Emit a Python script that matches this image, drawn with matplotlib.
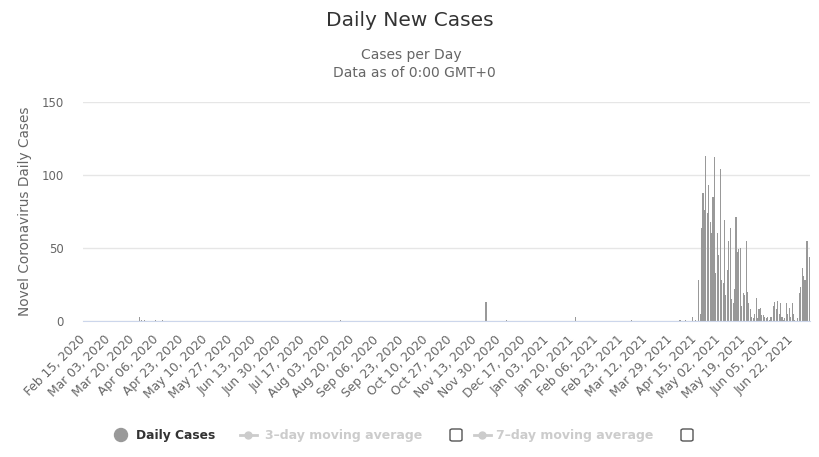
import numpy as np
import pandas as pd
import matplotlib
matplotlib.use('Agg')
import matplotlib.pyplot as plt
from matplotlib.lines import Line2D
from matplotlib.patches import FancyBboxPatch, Ellipse

# Data
START = '2020-02-15'
END = '2021-07-04'
TICK_EVERY = 17

# isolated small reports before the 2021 wave
early_dates = ['2020-03-25', '2020-03-26', '2020-03-28', '2020-04-05', '2020-04-10',
               '2020-08-12', '2020-11-21', '2020-12-05', '2021-01-22', '2021-03-02',
               '2021-04-05', '2021-04-09']
early_cases = [3, 1, 1, 1, 1, 1, 13, 1, 3, 1, 1, 1]

# daily values from the start of the 2021 wave
wave_start = '2021-04-14'
wave_cases = [3, 0, 1, 0, 28, 5, 64, 88, 76, 113,
              74, 93, 68, 60, 85, 112, 33, 60, 45, 104,
              28, 26, 69, 18, 35, 55, 64, 15, 12, 22,
              71, 47, 49, 50, 10, 19, 18, 55, 20, 12,
              8, 3, 2, 5, 16, 2, 8, 9, 4, 4,
              3, 2, 3, 1, 3, 3, 10, 13, 8, 14,
              5, 12, 3, 1, 2, 12, 5, 9, 3, 12,
              5, 1, 0, 2, 19, 23, 36, 31, 28, 55,
              55, 44]

dates = pd.date_range(START, END, freq='D')
cases = pd.Series(0.0, index=dates)
cases[pd.to_datetime(early_dates)] = early_cases
wave_idx = pd.date_range(wave_start, periods=len(wave_cases), freq='D')
cases[wave_idx] = wave_cases

W, H = 820, 457
fig = plt.figure(figsize=(W / 100, H / 100), dpi=100)
ax = fig.add_axes([83 / W, 1 - 321 / H, 727 / W, 219 / H])

x = np.arange(len(dates))
ax.bar(x, cases.values, width=0.75, color='#999999', linewidth=0)

ax.set_xlim(-0.5, len(dates) - 0.5)
ax.set_ylim(0, 150)
ax.set_yticks([0, 50, 100, 150])
ticks = x[::TICK_EVERY]
ax.set_xticks(ticks)
ax.set_xticklabels([d.strftime('%b %d, %Y') for d in dates[::TICK_EVERY]],
                   rotation=45, ha='right', va='center', rotation_mode='anchor')
ax.tick_params(axis='x', length=0, pad=12, labelsize=8.8, labelcolor='#666666')
ax.tick_params(axis='y', length=0, pad=14, labelsize=8.5, labelcolor='#666666')
ax.grid(axis='y', color='#e6e6e6', linewidth=1)
ax.set_axisbelow(True)
for s in ['top', 'right', 'left']:
    ax.spines[s].set_visible(False)
ax.spines['bottom'].set_color('#ccd6eb')
ax.set_ylabel('Novel Coronavirus Daily Cases', fontsize=9.8, color='#666666', labelpad=7)

# titles
fig.text(410 / W, 1 - 20 / H, 'Daily New Cases', ha='center', va='center',
         fontsize=14.5, color='#333333')
fig.text(411 / W, 1 - 55 / H, 'Cases per Day', ha='center', va='center',
         fontsize=10, color='#666666')
fig.text(414 / W, 1 - 73 / H, 'Data as of 0:00 GMT+0', ha='center', va='center',
         fontsize=10, color='#666666')

# legend
ly = 1 - 435 / H
fig.patches.append(Ellipse((121 / W, ly), 13 / W, 13 / H, color='#999999',
                           transform=fig.transFigure))
fig.text(136 / W, ly, 'Daily Cases', ha='left', va='center', fontsize=8.8,
         fontweight='bold', color='#333333')
for x0, tx, label, bx in [(240, 265, '3\u2013day moving average', 450),
                          (474, 496, '7\u2013day moving average', 681)]:
    fig.lines.append(Line2D([x0 / W, (x0 + 17) / W], [ly, ly], color='#cccccc', lw=2,
                            transform=fig.transFigure))
    fig.lines.append(Line2D([(x0 + 8.5) / W], [ly], marker='o', ms=5, color='#cccccc',
                            transform=fig.transFigure))
    fig.text(tx / W, ly, label, ha='left', va='center', fontsize=9,
             fontweight='bold', color='#cccccc')
    fig.patches.append(FancyBboxPatch((bx / W, ly - 6 / H), 12 / W, 12 / H,
                                      boxstyle='round,pad=0,rounding_size=0.003',
                                      facecolor='white', edgecolor='#555555', lw=1,
                                      transform=fig.transFigure))

plt.savefig('out.png', dpi=100)
